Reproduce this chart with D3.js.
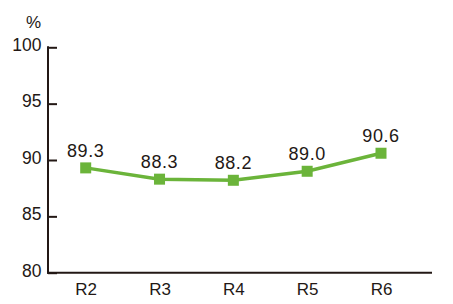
<!DOCTYPE html>
<html><head><meta charset="utf-8">
<script src="https://cdn.jsdelivr.net/npm/d3@7"></script>
<style>
html,body{margin:0;padding:0;background:#fff;}
text{font-family:"Liberation Sans",Arial,Helvetica,sans-serif;fill:#231815;}
</style></head>
<body><svg id="c" width="453" height="304"></svg>
<script>
const categories = ["R2","R3","R4","R5","R6"];
const values = [89.3, 88.3, 88.2, 89.0, 90.6];
const valueLabels = ["89.3","88.3","88.2","89.0","90.6"];
const yTicks = [80, 85, 90, 95, 100];
const unit = "%";

const svg = d3.select("#c");
const axisColor = "#231815";
const green = "#6BB43A";

const x = d3.scalePoint().domain(categories).range([85.7, 381]);
const y = d3.scaleLinear().domain([80, 100]).range([272.7, 47.3]);
const xLeft = 48, xRight = 432;

// y axis
const yAxis = svg.append("g").attr("transform", `translate(${xLeft},0)`)
  .call(d3.axisRight(y).tickValues(yTicks).tickSize(9).tickFormat(""));
yAxis.select(".domain").remove();
yAxis.selectAll(".tick line").attr("stroke", axisColor).attr("stroke-width", 2);
svg.append("line").attr("x1", xLeft).attr("x2", xLeft)
  .attr("y1", y(100) - 1).attr("y2", y(80) + 1)
  .attr("stroke", axisColor).attr("stroke-width", 2);
svg.selectAll(".ylab").data(yTicks).join("text")
  .attr("class", "ylab")
  .attr("x", 41.5).attr("y", d => y(d) + 3.8)
  .attr("text-anchor", "end").style("font-size", "17.5px")
  .text(d => d);
svg.append("text").attr("x", 33.5).attr("y", 28).attr("text-anchor", "middle")
  .style("font-size", "17px").text(unit);

// x axis
svg.append("line").attr("x1", xLeft - 1).attr("x2", xRight)
  .attr("y1", y(80)).attr("y2", y(80))
  .attr("stroke", axisColor).attr("stroke-width", 2);
const xAxis = svg.append("g").attr("transform", `translate(0,${y(80)})`)
  .call(d3.axisBottom(x).tickSize(0).tickPadding(0));
xAxis.select(".domain").remove();
xAxis.selectAll(".tick text")
  .attr("y", 22.3).attr("dy", 0)
  .style("font-size", "17px")
  .style("font-family", "'Liberation Sans',Arial,sans-serif")
  .attr("fill", axisColor);

// line
const line = d3.line().x((d, i) => x(categories[i])).y(d => y(d));
svg.append("path").datum(values).attr("d", line)
  .attr("fill", "none").attr("stroke", green).attr("stroke-width", 3.5);

// markers
const s = 11;
svg.selectAll(".mk").data(values).join("rect")
  .attr("class", "mk")
  .attr("x", (d, i) => x(categories[i]) - s / 2)
  .attr("y", d => y(d) - s / 2)
  .attr("width", s).attr("height", s)
  .attr("fill", green);

// value labels
svg.selectAll(".vl").data(values).join("text")
  .attr("class", "vl")
  .attr("x", (d, i) => x(categories[i]))
  .attr("y", d => y(d) - 11)
  .attr("text-anchor", "middle")
  .style("font-size", "18px").style("letter-spacing", "0.6px")
  .text((d, i) => valueLabels[i]);
</script></body></html>
